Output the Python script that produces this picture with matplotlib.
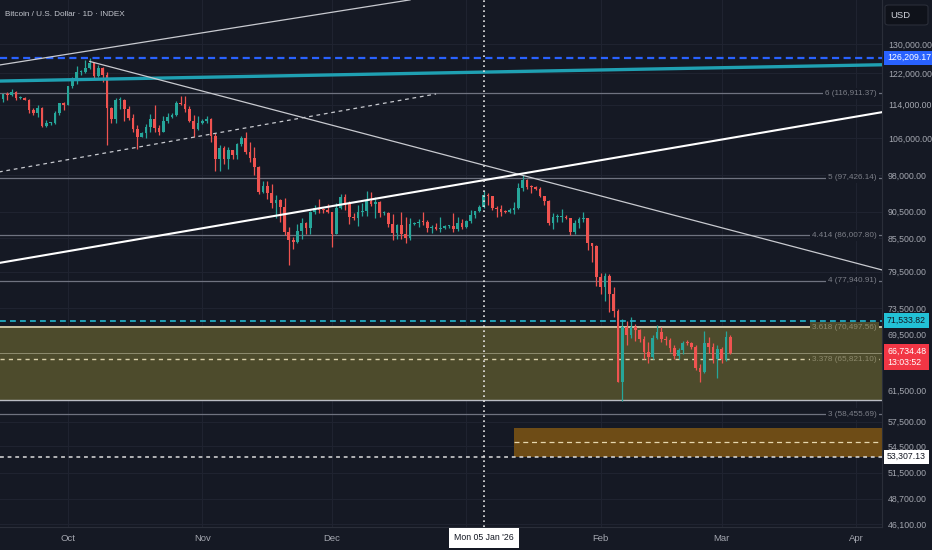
import numpy as np
import pandas as pd
import matplotlib
matplotlib.use('Agg')
import matplotlib.pyplot as plt
import matplotlib.dates as mdates
import matplotlib.transforms as mtransforms
import matplotlib.patches as patches
from matplotlib.ticker import FixedLocator, FuncFormatter, NullLocator

# daily BTC candles from 16 Sep 2025, values in thousands of USD
start_day = '2025-09-16'
opens_k = [
    115.4, 116.8, 116.5, 117.1, 115.7, 115.7, 115.3, 112.7, 112.0, 113.3, 109.0, 109.7, 109.7, 112.1, 114.4,
    114.0, 118.6, 120.6, 122.3, 122.4, 123.5, 124.7, 121.4, 123.3, 121.7, 113.2, 110.6, 115.2, 115.3, 113.0, 110.7,
    108.2, 106.4, 107.2, 108.6, 110.5, 108.5, 107.6, 110.1, 111.0, 111.6, 114.5, 114.1, 112.9, 110.0, 108.3,
    109.6, 110.1, 110.6, 106.5, 101.5, 103.9, 101.3, 103.4, 102.3, 104.7, 106.0, 103.0, 101.6, 99.7, 94.4,
    95.6, 94.2, 92.2, 92.9, 91.5, 86.6, 85.1, 84.7, 86.8, 88.3, 87.3, 90.5, 91.3, 90.9, 90.8,
    90.4, 86.3, 91.3, 93.5, 92.1, 89.4, 89.3, 90.4, 90.6, 92.7, 92.0, 92.5, 90.3, 90.3, 88.2, 86.4,
    87.9, 86.2, 85.5, 88.1, 88.3, 88.6, 88.5, 87.4, 87.6, 87.2, 87.3, 87.8, 87.8, 87.1, 88.4,
    87.5, 88.7, 89.9, 90.6, 91.4, 93.9, 93.7, 91.3, 91.0, 90.5, 90.4, 90.8, 91.2, 95.3, 97.0, 95.5,
    95.4, 95.1, 93.6, 92.6, 88.3, 89.4, 89.5, 89.5, 89.2, 86.6, 88.3, 89.1, 89.2, 84.5, 84.1,
    78.6, 76.9, 78.7, 75.7, 73.0, 62.7, 70.5, 69.3, 70.6, 70.1, 68.8, 66.9, 66.1, 68.9, 69.8,
    68.7, 68.6, 67.4, 66.3, 67.1, 68.2, 68.1, 67.6, 64.6, 64.0, 68.2, 67.5, 65.8,
    67.2, 65.8, 69.0]
highs_k = [
    116.8, 117.3, 117.9, 117.5, 116.2, 115.9, 115.4, 113.3, 114.0, 113.5, 110.3, 109.9, 112.4, 114.5, 114.8,
    118.6, 121.0, 123.9, 122.9, 125.7, 126.2, 125.1, 124.2, 123.8, 122.5, 113.4, 115.7, 116.0, 115.4, 113.6, 111.8,
    109.2, 107.5, 109.4, 111.7, 114.0, 109.1, 111.3, 111.9, 111.9, 115.0, 116.3, 116.1, 113.6, 111.6, 111.2,
    110.6, 111.2, 110.7, 107.3, 104.5, 104.2, 104.0, 103.4, 105.0, 106.6, 107.5, 105.3, 104.0, 99.8, 96.8,
    96.6, 96.0, 93.8, 93.0, 93.2, 87.5, 85.6, 88.1, 89.2, 88.6, 90.6, 91.9, 93.0, 91.2, 92.0,
    90.4, 92.3, 94.1, 94.0, 92.7, 90.3, 91.8, 92.3, 94.6, 94.5, 93.5, 92.7, 90.6, 90.5, 90.0, 88.1,
    90.4, 89.5, 89.3, 88.6, 89.1, 90.5, 88.9, 87.9, 88.3, 89.4, 87.9, 88.0, 90.3, 89.4, 89.1,
    88.8, 90.9, 90.6, 91.8, 94.7, 94.3, 93.7, 91.6, 91.9, 90.8, 91.3, 92.5, 96.2, 97.9, 97.2, 95.8,
    95.6, 95.5, 93.7, 92.8, 90.3, 90.0, 91.1, 89.8, 89.3, 88.8, 89.4, 90.4, 89.2, 84.6, 84.2,
    79.3, 79.3, 79.1, 76.9, 73.3, 71.7, 71.5, 72.1, 71.0, 70.3, 69.2, 68.3, 69.4, 70.9, 70.6,
    69.2, 68.9, 67.9, 67.4, 68.5, 68.6, 68.3, 67.8, 65.1, 70.0, 69.1, 68.1, 67.9,
    67.5, 70.0, 69.3]
lows_k = [
    114.8, 115.2, 116.3, 115.2, 115.5, 115.2, 112.0, 111.6, 111.1, 108.7, 108.6, 109.1, 109.3, 111.6, 112.7,
    113.9, 118.2, 119.3, 121.6, 122.0, 123.1, 120.6, 121.1, 119.7, 104.6, 109.7, 109.7, 113.0, 110.0, 110.2, 107.5,
    103.6, 106.4, 106.1, 107.6, 107.5, 106.9, 107.5, 109.7, 110.7, 111.3, 113.9, 112.2, 109.8, 106.3, 108.0,
    109.4, 109.5, 105.3, 98.9, 98.9, 100.3, 99.3, 101.5, 101.4, 104.3, 102.5, 100.8, 98.0, 94.0, 94.2,
    93.0, 91.3, 89.3, 88.6, 86.1, 80.6, 83.5, 84.6, 85.3, 86.2, 86.3, 90.1, 90.2, 90.2, 90.3,
    83.9, 86.2, 91.0, 90.9, 88.1, 88.9, 87.8, 89.6, 89.6, 91.6, 89.3, 89.5, 89.8, 87.6, 85.2, 85.3,
    85.4, 84.5, 85.1, 88.0, 87.6, 87.9, 86.6, 86.5, 86.9, 86.6, 87.1, 87.3, 86.7, 86.8, 87.2,
    87.4, 88.3, 89.3, 90.4, 91.3, 91.9, 90.9, 89.5, 89.7, 90.2, 90.2, 90.1, 91.0, 94.6, 95.0, 94.3,
    94.9, 93.5, 91.9, 87.9, 87.2, 88.6, 88.5, 89.0, 86.1, 86.2, 87.3, 88.6, 83.3, 81.1, 77.0,
    75.7, 74.6, 72.9, 72.1, 62.6, 60.1, 67.8, 68.9, 68.4, 68.3, 65.8, 65.2, 65.9, 68.7, 68.3,
    67.9, 66.8, 65.9, 65.9, 66.5, 67.8, 67.2, 64.3, 62.6, 63.9, 66.7, 65.2, 63.2,
    65.3, 65.5, 66.5]
closes_k = [
    116.8, 116.5, 117.1, 115.7, 115.7, 115.3, 112.7, 112.0, 113.3, 109.0, 109.7, 109.7, 112.1, 114.4, 114.0,
    118.6, 120.6, 122.3, 122.4, 123.5, 124.7, 121.4, 123.3, 121.7, 113.2, 110.6, 115.2, 115.3, 113.0, 110.7, 108.2,
    106.4, 107.2, 108.6, 110.5, 108.5, 107.6, 110.1, 111.0, 111.6, 114.5, 114.1, 112.9, 110.0, 108.3, 109.6,
    110.1, 110.6, 106.5, 101.5, 103.9, 101.3, 103.4, 102.3, 104.7, 106.0, 103.0, 101.6, 99.7, 94.4, 95.6,
    94.2, 92.2, 92.9, 91.5, 86.6, 85.1, 84.7, 86.8, 88.3, 87.3, 90.5, 91.3, 90.9, 90.8, 90.4,
    86.3, 91.3, 93.5, 92.1, 89.4, 89.3, 90.4, 90.6, 92.7, 92.0, 92.5, 90.3, 90.3, 88.2, 86.4, 87.9,
    86.2, 85.5, 88.1, 88.3, 88.6, 88.5, 87.4, 87.6, 87.2, 87.3, 87.8, 87.8, 87.1, 88.4, 87.5,
    88.7, 89.9, 90.6, 91.4, 93.9, 93.7, 91.3, 91.0, 90.5, 90.4, 90.8, 91.2, 95.3, 97.0, 95.5, 95.4,
    95.1, 93.6, 92.6, 88.3, 89.4, 89.5, 89.5, 89.2, 86.6, 88.3, 89.1, 89.2, 84.5, 84.1, 78.6,
    76.9, 78.7, 75.7, 73.0, 62.7, 70.5, 69.3, 70.6, 70.1, 68.8, 66.9, 66.1, 68.9, 69.8, 68.7,
    68.6, 67.4, 66.3, 67.1, 68.2, 68.1, 67.6, 64.6, 64.0, 68.2, 67.5, 65.8, 67.2,
    65.8, 69.0, 66.734]
last_price = 66734.48
countdown = '13:03:52'

# fib extension levels
fib_ratios = ['6', '5', '4.414', '4', '3.618', '3.378', '3']
fib_prices = [116911.37, 97426.14, 86007.80, 77940.91, 70497.56, 65821.10, 58455.69]

ath_price = 126209.17
cyan_level = 71533.82
support_level = 53307.13
zone_top, zone_bottom = 70497.56, 60200
box2_start = '2026-01-12'
box2_top, box2_mid = 56700, 55000

# drawn lines as (date, price) anchors
trend_top = [('2025-09-15', 124200), ('2025-12-19', 143000)]
trend_down = [('2025-10-06', 125200), ('2026-04-07', 79800)]
trend_up = [('2025-09-15', 81000), ('2026-04-07', 112200)]
trend_dashed = [('2025-09-15', 98600), ('2025-12-25', 116700)]
teal_line = [('2025-09-15', 120000), ('2026-04-07', 124300)]
marker_day = '2026-01-05'

ytick_vals = [130000, 122000, 114000, 106000, 98000, 90500, 85500, 79500, 73500,
              69500, 61500, 57500, 54500, 51500, 48700, 46100]
month_ticks = ['2025-10-01', '2025-11-01', '2025-12-01', '2026-01-01', '2026-02-01', '2026-03-01', '2026-04-01']
month_labels = ['Oct', 'Nov', 'Dec', '', 'Feb', 'Mar', 'Apr']

bg = '#151924'
up_col, down_col = '#26a69a', '#ef5350'
txt_col = '#a3a6af'
axis_fs = 6.3


def dnum(s):
    return mdates.date2num(pd.Timestamp(s))


plt.rcParams['font.family'] = ['Liberation Sans', 'DejaVu Sans']

fig = plt.figure(figsize=(9.32, 5.5), dpi=100, facecolor=bg)
ax = fig.add_axes([0, 23 / 550, 882 / 932, 527 / 550])
ax.set_facecolor(bg)
ax.set_yscale('log')

oct1 = dnum('2025-10-01')
ax.set_xlim(oct1 - 15.71, oct1 + 188.0)
ax.set_ylim(45800, 142960)

# candles
o = np.array(opens_k) * 1000
h = np.array(highs_k) * 1000
l = np.array(lows_k) * 1000
c = np.array(closes_k) * 1000
days = mdates.date2num(pd.date_range(start_day, periods=len(c), freq='D'))
cols = [up_col if cc >= oo else down_col for oo, cc in zip(o, c)]
ax.vlines(days, l, h, colors=cols, lw=0.9, zorder=3)
body = np.maximum(np.abs(c - o), 0.002 * c)
ax.bar(days, body, bottom=np.minimum(o, c), width=0.62, color=cols, zorder=3.1)

# zones
x0, x1 = ax.get_xlim()
ax.add_patch(patches.Rectangle((x0, zone_bottom), x1 - x0, zone_top - zone_bottom,
                               fc='#4d4b2c', ec='none', zorder=1))
ax.axhline(zone_top, color='#c9c3a2', lw=1.4, zorder=2)
ax.axhline(zone_bottom, color='#b9bcc4', lw=1.0, zorder=2)
bx = dnum(box2_start)
ax.add_patch(patches.Rectangle((bx, support_level), x1 - bx, box2_top - support_level,
                               fc='#6e4c16', ec='none', zorder=1))
ax.plot([bx, x1], [box2_mid, box2_mid], color='#e6d7ae', lw=0.9, dashes=(4, 3), zorder=2)

# fib levels
trans = mtransforms.blended_transform_factory(ax.transAxes, ax.transData)
for ratio, price in zip(fib_ratios, fib_prices):
    inside = zone_bottom <= price <= zone_top
    if ratio == '3.378':
        ax.axhline(price, color='#d8cfa8', lw=1.0, dashes=(3, 3), zorder=2)
    elif ratio != '3.618':
        ax.axhline(price, color='#6f7380', lw=0.9, zorder=2)
    ax.text(877 / 882, price, f'{ratio} ({price:,.2f})', transform=trans, ha='right', va='center',
            fontsize=5.9, color='#8d8a6c' if inside else '#7c7f88', zorder=5,
            bbox=dict(boxstyle='square,pad=0.25', fc='#4d4b2c' if inside else bg, ec='none'))

# horizontal levels
ax.axhline(ath_price, color='#2962ff', lw=1.6, dashes=(3.2, 2.0), zorder=4)
ax.axhline(cyan_level, color='#22b8cf', lw=1.2, dashes=(3.5, 2.5), zorder=4)
ax.axhline(last_price, color='#8f8d70', lw=0.7, zorder=2)
ax.axhline(support_level, color='#dcdcdc', lw=1.1, dashes=(2.5, 2.5), zorder=4)


def seg(anchors, **kw):
    ax.plot([dnum(a[0]) for a in anchors], [a[1] for a in anchors], **kw)


seg(teal_line, color='#1fa0b2', lw=2.4, zorder=4, solid_capstyle='butt')
seg(trend_top, color='#c8cad0', lw=0.9, zorder=4)
seg(trend_down, color='#c8cad0', lw=0.9, zorder=4)
seg(trend_up, color='#ffffff', lw=1.5, zorder=4)
seg(trend_dashed, color='#c8cad0', lw=0.9, dashes=(3, 3), zorder=4)
ax.axvline(dnum(marker_day), color='#e8e8e8', lw=1.2, dashes=(1, 2), zorder=4)

# axes styling
for side in ['left', 'top']:
    ax.spines[side].set_visible(False)
for side in ['right', 'bottom']:
    ax.spines[side].set_color('#2a2e39')
ax.yaxis.tick_right()
ax.yaxis.set_major_locator(FixedLocator(ytick_vals))
ax.yaxis.set_minor_locator(NullLocator())
ax.yaxis.set_major_formatter(FuncFormatter(lambda v, p: f'{v:,.2f}'))
ax.set_xticks([dnum(m) for m in month_ticks])
ax.set_xticklabels(month_labels)
ax.tick_params(axis='y', length=0, pad=4.2, labelsize=axis_fs, labelcolor=txt_col)
ax.tick_params(axis='x', length=0, pad=5, labelsize=6.8, labelcolor=txt_col)
ax.grid(True, color='#1f2330', lw=0.8, zorder=0)
ax.set_axisbelow(True)

# title
ax.text(5 / 882, 1 - 14 / 527, 'Bitcoin / U.S. Dollar · 1D · INDEX', transform=ax.transAxes,
        ha='left', va='center', fontsize=5.9, color='#c3c6ce')

# price labels on the axis
lx = 1 + 5 / 882
ax.text(lx, ath_price, f'{ath_price:,.2f}', transform=trans, ha='left', va='center', fontsize=axis_fs,
        color='white', clip_on=False, zorder=6, bbox=dict(boxstyle='square,pad=0.3', fc='#2962ff', ec='none'))
ax.text(lx, cyan_level, f'{cyan_level:,.2f}', transform=trans, ha='left', va='center', fontsize=axis_fs,
        color='#131722', clip_on=False, zorder=6, bbox=dict(boxstyle='square,pad=0.3', fc='#22c1d6', ec='none'))
ax.text(lx, support_level, f'{support_level:,.2f}', transform=trans, ha='left', va='center', fontsize=axis_fs,
        color='#131722', clip_on=False, zorder=6, bbox=dict(boxstyle='square,pad=0.3', fc='white', ec='none'))
ax.text(lx, last_price, f'{last_price:,.2f}\n{countdown}',
        transform=mtransforms.offset_copy(trans, fig=fig, y=6, units='dots'), ha='left', va='top',
        fontsize=axis_fs, color='white', linespacing=1.3, clip_on=False, zorder=6,
        bbox=dict(boxstyle='square,pad=0.35', fc='#f23645', ec='none'))

# USD box and date box
fig.patches.append(patches.FancyBboxPatch((885 / 932, 1 - 25 / 550), 43 / 932, 20 / 550,
                                          boxstyle='round,pad=0,rounding_size=0.004', transform=fig.transFigure,
                                          fc='#0f121a', ec='#2a2e39', lw=0.8))
fig.text(890 / 932, 1 - 15 / 550, 'USD', ha='left', va='center', fontsize=6.8, color='#d1d4dc')
fig.text(484 / 932, 1 - 538 / 550, "Mon 05 Jan '26", ha='center', va='center', fontsize=6.3,
         color='#131722', bbox=dict(boxstyle='square,pad=0.6', fc='white', ec='none'))

fig.savefig('out.png', dpi=100, facecolor=bg)
